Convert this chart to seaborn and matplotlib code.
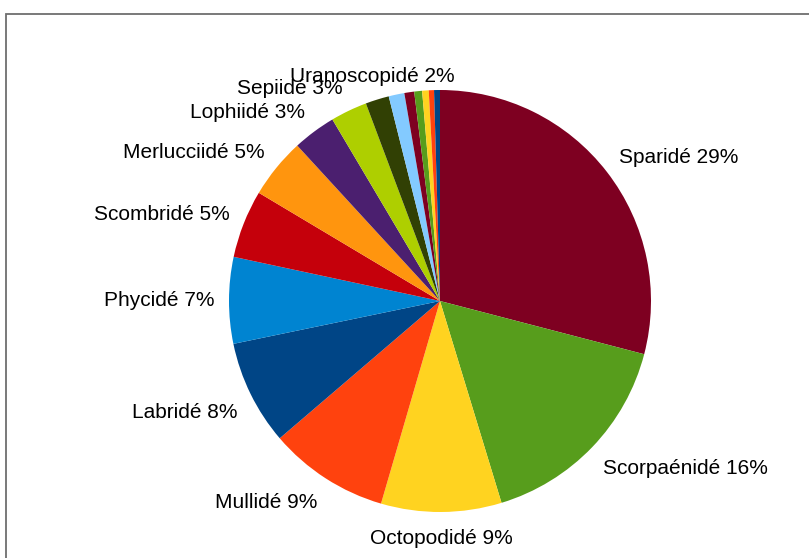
import numpy as np
import matplotlib
matplotlib.use("Agg")
import matplotlib.pyplot as plt
import seaborn as sns
from matplotlib.patches import Rectangle

families = ["Sparidé", "Scorpaénidé", "Octopodidé", "Mullidé", "Labridé",
            "Phycidé", "Scombridé", "Merlucciidé", "Lophiidé", "Sepiidé",
            "Uranoscopidé", "Autre 1", "Autre 2", "Autre 3", "Autre 4",
            "Autre 5", "Autre 6"]
values = [29.0, 16.2, 9.2, 9.2, 8.0, 6.6, 5.2, 4.6, 3.3, 2.8, 1.8,
          1.2, 0.75, 0.6, 0.5, 0.4, 0.45]
show_label = [True] * 11 + [False] * 6
colors_hex = ["#7E0021", "#579D1C", "#FFD320", "#FF420E", "#004586",
              "#0084D1", "#C5000B", "#FF950E", "#4B1F6F", "#AECF00",
              "#314004", "#83CAFF", "#7E0021", "#579D1C", "#FFD320",
              "#FF420E", "#004586"]

sns.set_theme(style="white")
plt.rcParams["font.family"] = ["Liberation Sans", "DejaVu Sans"]
palette = sns.color_palette(colors_hex)

W, H = 809, 558
fig = plt.figure(figsize=(W / 100, H / 100), dpi=100)
fig.patch.set_facecolor("white")

# outer frame
fig.patches.append(Rectangle((6 / W, 0 - 0.02), 1.2, (H - 14) / H + 0.02,
                             transform=fig.transFigure, fill=False,
                             edgecolor="#6e6e6e", linewidth=1.3))

cx, cy, R = 440, H - 301, 211
L = 1.4
S = 2 * L * R
ax = fig.add_axes([(cx - S / 2) / W, (cy - S / 2) / H, S / W, S / H])
ax.set_facecolor("none")

wedges, _ = ax.pie(values, colors=palette, startangle=90, counterclock=False,
                   wedgeprops=dict(linewidth=0), radius=1.0)
ax.set_xlim(-L, L)
ax.set_ylim(-L, L)
ax.set_aspect("equal")
ax.axis("off")

total = sum(values)
for w, name, v, show in zip(wedges, families, values, show_label):
    if not show:
        continue
    th = np.deg2rad((w.theta1 + w.theta2) / 2)
    c, s = np.cos(th), np.sin(th)
    r = 1.07
    x, y = r * c, r * s
    ha = "left" if c > 0.35 else ("right" if c < -0.35 else "center")
    if s < -0.15:
        va, off = "top", -1.5
    else:
        va, off = "center", 6.8 * s
    pct = round(v / total * 100)
    ax.annotate(f"{name} {pct}%", xy=(x, y), xytext=(0, off),
                textcoords="offset points", ha=ha, va=va,
                fontsize=15, color="black", annotation_clip=False)

fig.savefig("out.png", dpi=100)
